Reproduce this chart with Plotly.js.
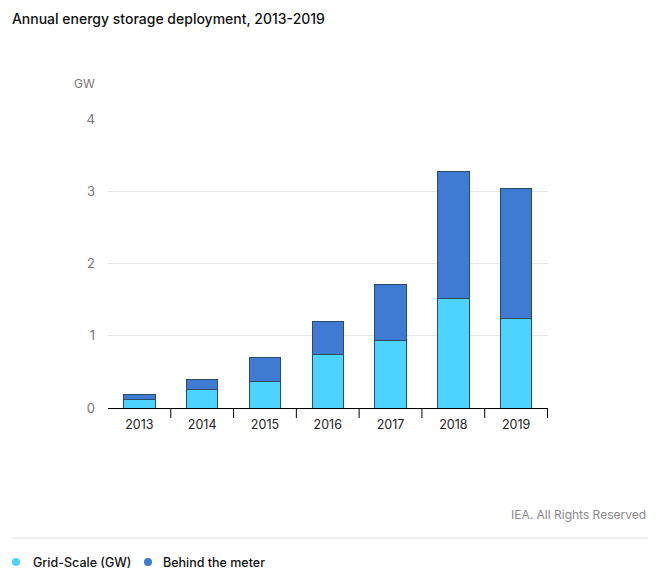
<!DOCTYPE html>
<html>
<head>
<meta charset="utf-8">
<script src="https://cdn.plot.ly/plotly-3.0.1.min.js"></script>
<style>html,body{margin:0;padding:0;background:#fff;}#chart{width:663px;height:581px;}</style>
</head>
<body>
<div id="chart"></div>
<script>
const years = ['2013','2014','2015','2016','2017','2018','2019'];
const gridScale = [0.12, 0.25, 0.37, 0.74, 0.94, 1.52, 1.24];
const behindMeter = [0.07, 0.14, 0.335, 0.46, 0.77, 1.76, 1.80];
const seriesNames = ['Grid-Scale (GW)', 'Behind the meter'];
const yTicks = [0, 1, 2, 3, 4];

const cGrid = '#4dd3ff';
const cBtm = '#3f7ad3';
const outline = {color: '#2a4a66', width: 1};

const W = 663, H = 581;
const M = {l: 108, r: 115, t: 119, b: 173};
const pw = W - M.l - M.r, ph = H - M.t - M.b;
const px = x => (x - M.l) / pw;
const py = y => (H - M.b - y) / ph;

const traces = [
  {type: 'bar', x: years, y: gridScale, name: seriesNames[0], marker: {color: cGrid, line: outline}, width: 0.5, hoverinfo: 'y'},
  {type: 'bar', x: years, y: behindMeter, name: seriesNames[1], marker: {color: cBtm, line: outline}, width: 0.5, hoverinfo: 'y'}
];

const shapes = [
  {type: 'line', xref: 'paper', yref: 'paper', x0: px(12), x1: px(648), y0: py(538), y1: py(538), line: {color: '#e3e3e3', width: 1}}
];
// category boundary ticks (none at the left edge)
for (let i = 0; i < years.length; i++) {
  shapes.push({type: 'line', xref: 'x', yref: 'paper', x0: i + 0.5, x1: i + 0.5, y0: 0, y1: -10 / ph, line: {color: '#000', width: 1}});
}
// legend circles
const legX = [16, 148];
const legColors = [cGrid, cBtm];
legX.forEach((x, i) => {
  shapes.push({type: 'circle', xref: 'paper', yref: 'paper', xsizemode: 'pixel', ysizemode: 'pixel',
    xanchor: px(x), yanchor: py(562), x0: -4, x1: 4, y0: -4, y1: 4,
    fillcolor: legColors[i], line: {width: 0}});
});

const annotations = [
  {text: 'GW', xref: 'paper', yref: 'paper', x: px(84), y: py(83), xanchor: 'center', yanchor: 'middle', showarrow: false, font: {size: 12, color: '#777'}},
  {text: 'IEA. All Rights Reserved', xref: 'paper', yref: 'paper', x: px(648), y: py(514), xanchor: 'right', yanchor: 'middle', showarrow: false, font: {size: 12, color: '#888'}}
];
const legTextX = [31, 161];
seriesNames.forEach((n, i) => {
  annotations.push({text: n, xref: 'paper', yref: 'paper', x: px(legTextX[i]), y: py(562), xanchor: 'left', yanchor: 'middle', showarrow: false,
    font: {size: 12.5, color: '#111', weight: 500}});
});

const layout = {
  width: W, height: H,
  margin: M,
  barmode: 'stack',
  showlegend: false,
  paper_bgcolor: '#fff', plot_bgcolor: '#fff',
  font: {family: 'Inter, "Noto Sans", sans-serif', color: '#222'},
  title: {text: 'Annual energy storage deployment, 2013-2019', x: 0.018, xanchor: 'left', y: 0.967, yanchor: 'middle', font: {size: 14, color: '#111', family: 'Inter, sans-serif', weight: 500}},
  xaxis: {
    type: 'category', ticks: 'outside', ticklen: 5, tickcolor: 'rgba(0,0,0,0)', ticklabelstandoff: 0,
    showline: true, linecolor: '#000', linewidth: 1, showgrid: false,
    tickfont: {size: 12.5, color: '#222'}, fixedrange: true
  },
  yaxis: {
    range: [0, 4], tickvals: yTicks, ticktext: yTicks.map(String), showgrid: true, gridcolor: '#e6e6e6', gridwidth: 1,
    zeroline: false, showline: false, ticks: '', tickfont: {size: 13, color: '#777'}, ticklabelstandoff: 12, fixedrange: true
  },
  annotations: annotations,
  shapes: shapes
};

Plotly.newPlot('chart', traces, layout, {displayModeBar: false});
</script>
</body>
</html>
